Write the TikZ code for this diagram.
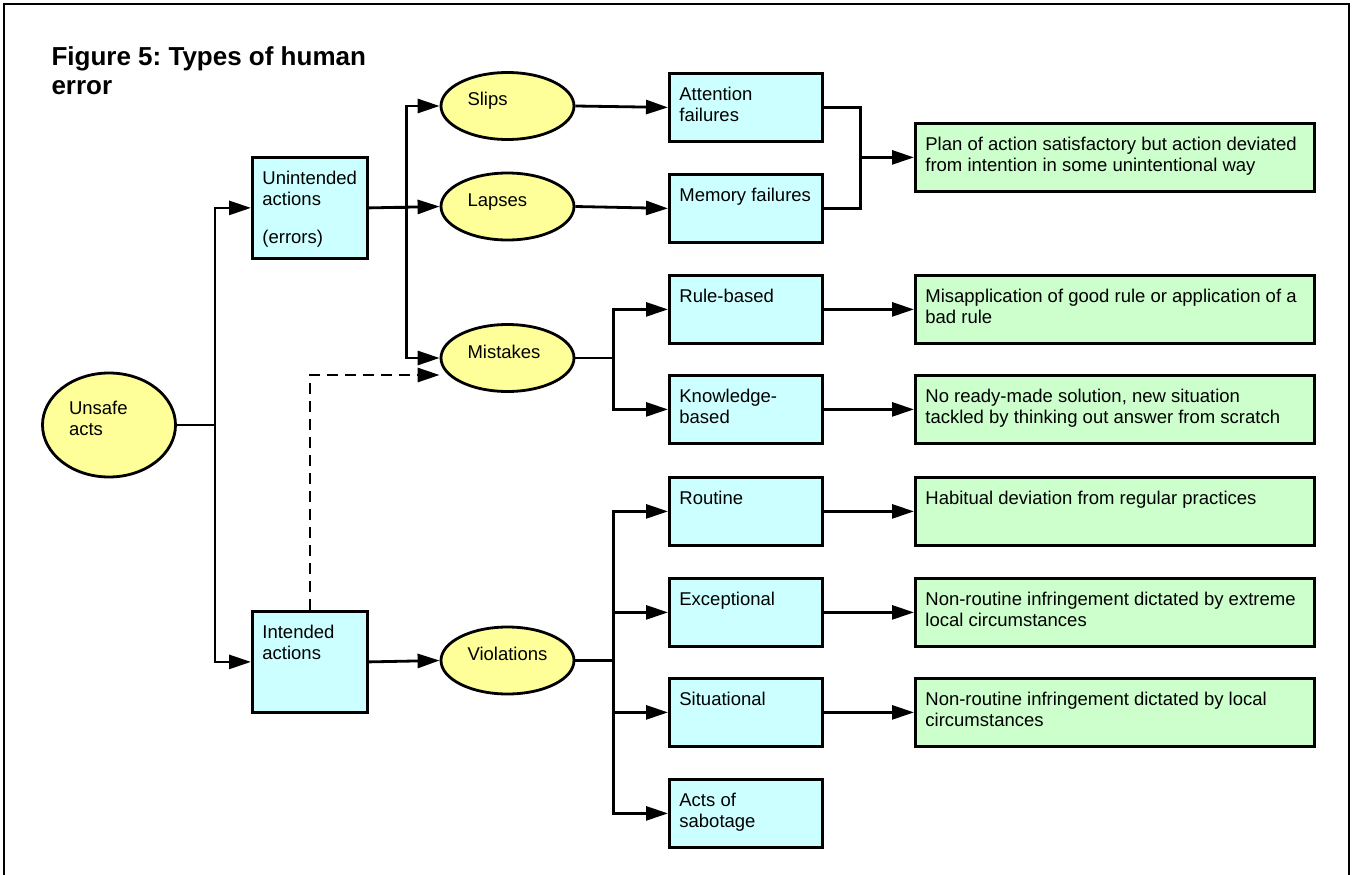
\documentclass[tikz,border=0pt]{standalone}
\usepackage{fontspec}
\setmainfont{Liberation Sans}
\frenchspacing
\usetikzlibrary{shapes.geometric,arrows.meta}
\definecolor{act fill}{HTML}{FFFF99}
\definecolor{kind fill}{HTML}{CCFFFF}
\definecolor{note fill}{HTML}{CCFFCC}
\newcommand{\boxtext}[3]{\parbox[c][#2][t]{#1}{\raggedright\leftskip=10pt\relax\rule{0pt}{27pt}#3}}
\tikzset{act/.style={ellipse, draw, line width=2.8pt, fill=act fill, minimum width=133pt, minimum height=67pt, inner sep=0pt, text width=80pt, align=left, text height=6pt, text depth=6pt},
	kind/.style={draw, line width=2.8pt, fill=kind fill, inner sep=0pt, anchor=north west},
	note/.style={kind, fill=note fill},
	plain/.style={line width=2.8pt},
	link/.style={plain, -{Triangle[length=22pt,width=14pt]}}}

\begin{document}
\begin{tikzpicture}[x=1pt,y=-1pt,every node/.style={font=\fontsize{18.5}{21}\selectfont}]
		\useasboundingbox (0,0) rectangle (1353,875);
		\draw[line width=2.6pt] (4,875) -- (4,4) -- (1349,4) -- (1349,875);
		\node[anchor=base west, align=left, font=\bfseries\fontsize{26}{29}\selectfont] (title) at (48,95) {Figure 5: Types of human\\error};
		
		\node[act, text height=0pt, text depth=22pt, minimum height=104pt] (unsafe) at (109,425) {Unsafe\\acts};
		\node[act] (slips) at (507.5,106) {Slips};
		\node[act] (lapses) at (507.5,206.5) {Lapses};
		\node[act] (mistakes) at (507.5,358) {Mistakes};
		\node[act] (violations) at (507.5,660.5) {Violations};
		
		\node[kind] (unintended) at (251,156) {\boxtext{115pt}{101pt}{Unintended\\actions\\[17pt](errors)}};
		\node[kind] (intended) at (251,610) {\boxtext{115pt}{101pt}{Intended\\actions}};
		
		\node[kind] (attention) at (668,72) {\boxtext{153pt}{68pt}{Attention\\failures}};
		\node[kind] (memory) at (668,173) {\boxtext{153pt}{68pt}{Memory failures}};
		\node[kind] (rule) at (668,274) {\boxtext{153pt}{68pt}{Rule-based}};
		\node[kind] (knowledge) at (668,374) {\boxtext{153pt}{68pt}{Knowledge-\\based}};
		\node[kind] (routine) at (668,476) {\boxtext{153pt}{68pt}{Routine}};
		\node[kind] (exceptional) at (668,577) {\boxtext{153pt}{68pt}{Exceptional}};
		\node[kind] (situational) at (668,677) {\boxtext{153pt}{68pt}{Situational}};
		\node[kind] (sabotage) at (668,778) {\boxtext{153pt}{68pt}{Acts of\\sabotage}};
		
		\node[note] (plan) at (914,122) {\boxtext{399pt}{68pt}{Plan of action satisfactory but action deviated\\from intention in some unintentional way}};
		\node[note] (misapplied) at (914,274) {\boxtext{399pt}{68pt}{Misapplication of good rule or application of a\\bad rule}};
		\node[note] (noready) at (914,374) {\boxtext{399pt}{68pt}{No ready-made solution, new situation\\tackled by thinking out answer from scratch}};
		\node[note] (habitual) at (914,476) {\boxtext{399pt}{68pt}{Habitual deviation from regular practices}};
		\node[note] (extreme) at (914,577) {\boxtext{399pt}{68pt}{Non-routine infringement dictated by extreme\\local circumstances}};
		\node[note] (local) at (914,677) {\boxtext{399pt}{68pt}{Non-routine infringement dictated by local\\circumstances}};
		
		\foreach \k in {unintended,intended}
			\draw[link] (unsafe.east) -- ++(38,0) |- (\k.west);
		\draw[link] (unintended.east) -- (lapses.west);
		\foreach \k in {slips,mistakes}
			\draw[link] (unintended.east) -- ++(38,0) |- (\k.west);
		\draw[link, dash pattern=on 11pt off 7pt] (intended.north) |- ([yshift=-17pt]mistakes.west);
		\draw[link] (intended.east) -- (violations.west);
		
		\draw[link] (slips.east) -- (attention.west);
		\draw[link] (lapses.east) -- (memory.west);
		\foreach \k in {rule,knowledge}
			\draw[link] (mistakes.east) -- ++(38,0) |- (\k.west);
		\foreach \k in {routine,exceptional,situational,sabotage}
			\draw[link] (violations.east) -- ++(38,0) |- (\k.west);
		
		\coordinate (join) at ([xshift=37pt]attention.east);
		\draw[plain] (attention.east) -| (join) |- (memory.east);
		\draw[link] (join |- plan.west) -- (plan.west);
		\foreach \a/\b in {rule/misapplied,knowledge/noready,routine/habitual,exceptional/extreme,situational/local}
			\draw[link] (\a.east) -- (\b.west);
\end{tikzpicture}
\end{document}
